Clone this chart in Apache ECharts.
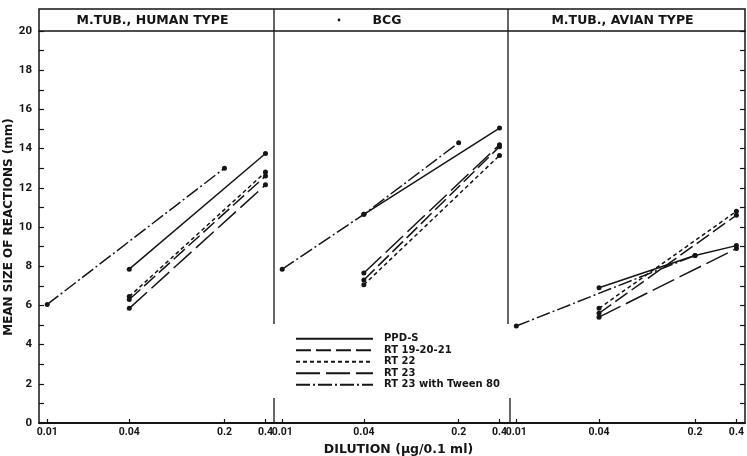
<!DOCTYPE html>
<html>
<head>
<meta charset="utf-8">
<title>Mean size of reactions</title>
<script src="https://cdn.jsdelivr.net/npm/echarts@6/dist/echarts.min.js"></script>
<style>html,body{margin:0;padding:0;background:#fff;}</style>
</head>
<body>
<div id="main" style="width:747px;height:456px;"></div>
<script>
// titles, series names and ticks
const panelTitles = ['M.TUB., HUMAN TYPE', 'BCG', 'M.TUB., AVIAN TYPE'];
const seriesNames = ['PPD-S', 'RT 19-20-21', 'RT 22', 'RT 23', 'RT 23 with Tween 80'];
const dilutionTicks = [0.01, 0.04, 0.2, 0.4];
const dilutionLabels = ['0.01', '0.04', '0.2', '0.4'];

// [dilution, mean size of reaction (mm)]
const humanPPDS  = [[0.04, 7.85], [0.4, 13.75]];
const humanRT19  = [[0.04, 6.3], [0.4, 12.6]];
const humanRT22  = [[0.04, 6.45], [0.4, 12.8]];
const humanRT23  = [[0.04, 5.85], [0.4, 12.15]];
const humanTween = [[0.01, 6.05], [0.2, 13.0]];

const bcgPPDS  = [[0.04, 10.65], [0.4, 15.05]];
const bcgRT19  = [[0.04, 7.3], [0.4, 14.1]];
const bcgRT22  = [[0.04, 7.05], [0.4, 13.65]];
const bcgRT23  = [[0.04, 7.65], [0.4, 14.2]];
const bcgTween = [[0.01, 7.85], [0.04, 10.65], [0.2, 14.3]];

const avianPPDS  = [[0.04, 6.9], [0.2, 8.55], [0.4, 9.05]];
const avianRT19  = [[0.04, 5.6], [0.4, 10.6]];
const avianRT22  = [[0.04, 5.85], [0.4, 10.8]];
const avianRT23  = [[0.04, 5.4], [0.4, 8.9]];
const avianTween = [[0.01, 4.95], [0.2, 8.55]];

const panelData = [
    [humanPPDS, humanRT19, humanRT22, humanRT23, humanTween],
    [bcgPPDS, bcgRT19, bcgRT22, bcgRT23, bcgTween],
    [avianPPDS, avianRT19, avianRT22, avianRT23, avianTween]
];

// layout
const ink = '#151515';
const font = 'DejaVu Sans';
const tickFont = 'Roboto';
const edges = [39, 274, 508, 745];
const plotTop = 31, plotBottom = 423, headTop = 9;
const gapTop = 324, gapBottom = 398;
const dashes = ['solid', [15, 5], [4, 3], [24, 6], [14, 3, 2, 3]];

function tickLabel(v) {
    let best = 0;
    for (let i = 1; i < dilutionTicks.length; i++) {
        if (Math.abs(Math.log(v / dilutionTicks[i])) < Math.abs(Math.log(v / dilutionTicks[best]))) best = i;
    }
    return dilutionLabels[best];
}

const myChart = echarts.init(document.getElementById('main'));

const grids = [], xAxes = [], yAxes = [], series = [], graphics = [];
for (let p = 0; p < 3; p++) {
    grids.push({left: edges[p], width: edges[p + 1] - edges[p], top: plotTop, bottom: 456 - plotBottom,
        containLabel: false, outerBoundsMode: 'none'});
    xAxes.push({
        type: 'log', gridIndex: p, min: 0.0087, max: 0.462,
        name: p === 1 ? 'DILUTION (\u03bcg/0.1 ml)' : '',
        nameLocation: 'middle', nameGap: 18,
        nameTextStyle: {color: ink, fontFamily: font, fontSize: 12.5, fontWeight: 'bold', padding: [0, 0, 0, 15]},
        axisLine: {onZero: false, lineStyle: {color: ink, width: 2}},
        axisTick: {inside: true, length: 4, customValues: dilutionTicks, lineStyle: {color: ink, width: 1.2}},
        axisLabel: {customValues: dilutionTicks, formatter: tickLabel, margin: 4,
            color: ink, fontFamily: tickFont, fontSize: 10.5, fontWeight: 'bold'},
        splitLine: {show: false},
        minorTick: {show: false}
    });
    const yAxis = {
        type: 'value', gridIndex: p, min: 0, max: 20, interval: 2,
        splitLine: {show: false}
    };
    if (p === 0) {
        Object.assign(yAxis, {
            name: 'MEAN SIZE OF REACTIONS (mm)', nameLocation: 'middle', nameGap: 21,
            nameTextStyle: {color: ink, fontFamily: font, fontSize: 12, fontWeight: 'bold'},
            axisLine: {show: true, onZero: false, lineStyle: {color: ink, width: 1.5}},
            axisTick: {inside: true, length: 5, lineStyle: {color: ink, width: 1.2}},
            minorTick: {show: true, splitNumber: 2, length: 5, lineStyle: {color: ink, width: 1.2}},
            axisLabel: {margin: 7, color: ink, fontFamily: tickFont, fontSize: 11.5, fontWeight: 'bold'}
        });
    } else if (p === 2) {
        Object.assign(yAxis, {
            position: 'right',
            axisLine: {show: true, onZero: false, lineStyle: {color: ink, width: 1.5}},
            axisTick: {inside: true, length: 5, lineStyle: {color: ink, width: 1.2}},
            minorTick: {show: true, splitNumber: 2, length: 5, lineStyle: {color: ink, width: 1.2}},
            axisLabel: {show: false}
        });
    } else {
        Object.assign(yAxis, {axisLine: {show: false}, axisTick: {show: false}, axisLabel: {show: false}});
    }
    yAxes.push(yAxis);

    for (let s = 0; s < seriesNames.length; s++) {
        series.push({
            type: 'line', name: seriesNames[s], xAxisIndex: p, yAxisIndex: p,
            data: panelData[p][s],
            symbol: 'circle', symbolSize: 5,
            itemStyle: {color: ink},
            lineStyle: {color: ink, width: 1.5, type: dashes[s]},
            animation: false, silent: true
        });
    }

    graphics.push({
        type: 'text', silent: true,
        style: {text: panelTitles[p], x: (edges[p] + edges[p + 1]) / 2 - 4, y: 20.5,
            align: 'center', verticalAlign: 'middle',
            font: 'bold 12.5px "DejaVu Sans"', fill: ink}
    });
}

// header band and broken panel dividers
graphics.push({
    type: 'rect', silent: true,
    shape: {x: edges[0], y: headTop, width: edges[3] - edges[0], height: plotTop - headTop},
    style: {fill: 'none', stroke: ink, lineWidth: 1.5}
});
for (let i = 1; i <= 2; i++) {
    graphics.push({type: 'line', silent: true, shape: {x1: edges[i], y1: headTop, x2: edges[i], y2: gapTop},
        style: {stroke: ink, lineWidth: 1.3}});
    graphics.push({type: 'line', silent: true, shape: {x1: edges[i] + (i - 1) * 2, y1: gapBottom, x2: edges[i] + (i - 1) * 2, y2: plotBottom},
        style: {stroke: ink, lineWidth: 1.3}});
}
graphics.push({type: 'circle', silent: true, shape: {cx: 339, cy: 20, r: 1.4}, style: {fill: ink}});

const option = {
    backgroundColor: '#fff',
    animation: false,
    grid: grids,
    xAxis: xAxes,
    yAxis: yAxes,
    legend: {
        data: seriesNames, orient: 'vertical', left: 295, top: 333, padding: 0,
        itemWidth: 77, itemHeight: 6, itemGap: 0, selectedMode: false,
        itemStyle: {opacity: 0},
        textStyle: {color: ink, fontFamily: font, fontSize: 10, fontWeight: 'bold', lineHeight: 11.5, padding: [0, 0, 0, 6]}
    },
    graphic: graphics,
    series: series
};

myChart.setOption(option);
</script>
</body>
</html>
